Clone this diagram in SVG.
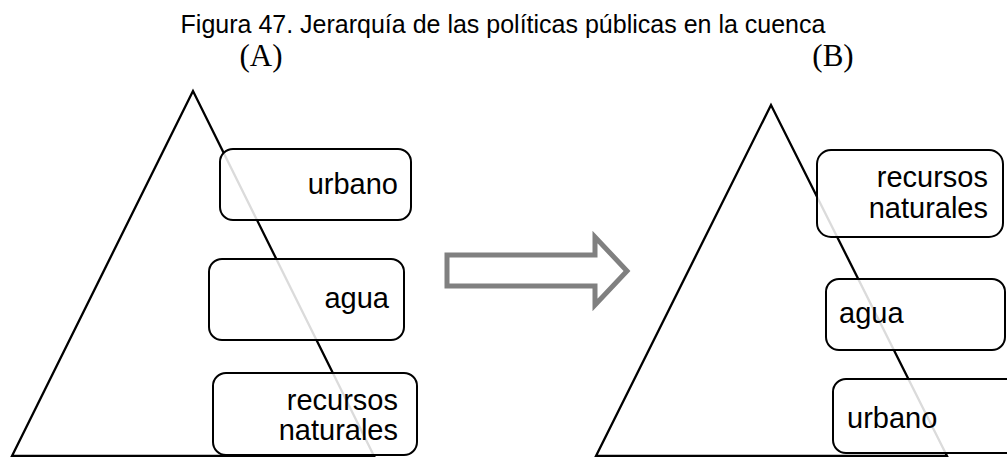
<svg xmlns="http://www.w3.org/2000/svg" width="1007" height="457" viewBox="0 0 1007 457">
<style>
.title{font-family:"Liberation Sans",Arial,sans-serif;font-size:25px;fill:#000}
.lbl{font-family:"Times New Roman","Liberation Serif",serif;font-size:31px;fill:#000}
.tri{fill:none;stroke:#000;stroke-width:2.3;stroke-linejoin:miter}
.box rect{fill:#fff;fill-opacity:0.86;stroke:#000;stroke-width:2}
.box text{font-family:"Liberation Sans",Arial,sans-serif;font-size:29px;fill:#000}
.r{text-anchor:end}
.arrow{fill:#fff;stroke:#808080;stroke-width:5}
</style>
<rect width="1007" height="457" fill="#fff"/>
<text class="title" x="503" y="33" text-anchor="middle">Figura 47. Jerarquía de las políticas públicas en la cuenca</text>
<text class="lbl" x="261" y="66" text-anchor="middle">(A)</text>
<text class="lbl" x="833" y="66" text-anchor="middle">(B)</text>

<g id="pyramid-A">
<polygon class="tri" points="193,91 12,456 374,456"/>
</g>
<g id="pyramid-B">
<polygon class="tri" points="771,105 596,456 947,456"/>
</g>

<g id="A-urbano" class="box">
<rect x="220" y="149" width="191" height="71" rx="13"/>
<text class="r" x="398" y="194">urbano</text>
</g>
<g id="A-agua" class="box">
<rect x="209" y="259" width="195" height="81" rx="13"/>
<text class="r" x="389" y="308">agua</text>
</g>
<g id="A-recursos" class="box">
<rect x="213" y="373" width="204" height="82" rx="13"/>
<text class="r" x="398" y="410">recursos</text>
<text class="r" x="398" y="440">naturales</text>
</g>

<g id="B-recursos" class="box">
<rect x="817" y="150" width="186" height="87" rx="14"/>
<text class="r" x="988" y="187">recursos</text>
<text class="r" x="988" y="218">naturales</text>
</g>
<g id="B-agua" class="box">
<rect x="826" y="279" width="179" height="71" rx="13"/>
<text x="839" y="323">agua</text>
</g>
<g id="B-urbano" class="box">
<rect x="833" y="379" width="190" height="74" rx="13"/>
<text x="847" y="428">urbano</text>
</g>

<g id="connectors">
<polygon class="arrow" points="447,255 595,255 595,237 627,271 595,305 595,286 447,286"/>
</g>
</svg>
